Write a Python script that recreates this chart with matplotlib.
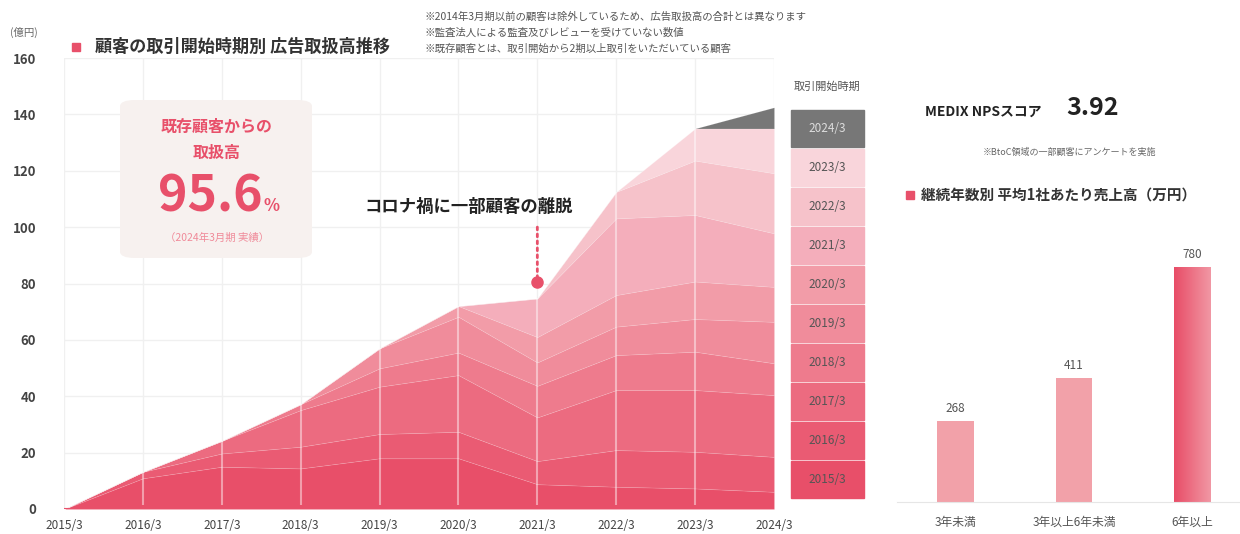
import matplotlib
matplotlib.use('Agg')
import matplotlib.pyplot as plt
import numpy as np
from matplotlib.patches import Rectangle, FancyBboxPatch
from matplotlib.colors import LinearSegmentedColormap

plt.rcParams['font.family'] = ['Noto Sans CJK JP', 'DejaVu Sans']

# 決算期
periods = ['2015/3', '2016/3', '2017/3', '2018/3', '2019/3',
           '2020/3', '2021/3', '2022/3', '2023/3', '2024/3']

# 取引開始時期別 広告取扱高（億円）
c2015 = [0, 10.9, 15.0, 14.4, 18.0, 18.0, 8.8, 7.9, 7.3, 6.1]
c2016 = [0, 2.3, 4.7, 7.7, 8.6, 9.4, 8.2, 13.0, 13.0, 12.4]
c2017 = [0, 0, 4.5, 13.0, 16.8, 20.1, 15.5, 21.3, 21.9, 21.9]
c2018 = [0, 0, 0, 2.1, 6.5, 8.0, 11.2, 12.4, 13.6, 11.3]
c2019 = [0, 0, 0, 0, 7.1, 12.7, 8.3, 10.1, 11.6, 14.7]
c2020 = [0, 0, 0, 0, 0, 3.8, 9.0, 11.2, 13.3, 12.4]
c2021 = [0, 0, 0, 0, 0, 0, 13.7, 27.2, 23.6, 19.0]
c2022 = [0, 0, 0, 0, 0, 0, 0, 9.4, 19.3, 21.3]
c2023 = [0, 0, 0, 0, 0, 0, 0, 0, 11.4, 15.9]
c2024 = [0, 0, 0, 0, 0, 0, 0, 0, 0, 7.5]
cohorts = [c2015, c2016, c2017, c2018, c2019, c2020, c2021, c2022, c2023, c2024]
cohort_labels = periods

colors = ['#e84f69', '#ea5b73', '#ec6b80', '#ee7b8d', '#f08c9b',
          '#f29ca8', '#f4aebb', '#f6c2ca', '#f9d5db', '#777777']

# 継続年数別 平均1社あたり売上高（万円）
tenure = ['3年未満', '3年以上6年未満', '6年以上']
sales = [268, 411, 780]

red = '#e8506a'
W, H = 1240, 534


def fx(x):
    return x / W


def fy(y):
    return 1 - y / H


fig = plt.figure(figsize=(12.4, 5.34), dpi=100)

# ---- 左: 積み上げ面グラフ
ax = fig.add_axes([fx(64), fy(509), fx(774) - fx(64), fy(58) - fy(509)])
x = np.arange(len(periods))
ax.stackplot(x, *cohorts, colors=colors, linewidth=0.5,
             edgecolor=(1, 1, 1, 0.15), zorder=2)
totals = np.sum(cohorts, axis=0)
ax.vlines(x[1:-1], 1.5, totals[1:-1], color='white', alpha=0.45, lw=1.5, zorder=3)
ax.plot([0, 9], [0, 0], color=red, lw=1.5, zorder=4)

ax.set_xlim(0, 9)
ax.set_ylim(0, 160)
ax.set_yticks(range(0, 161, 20))
ax.set_xticks(x)
ax.set_xticklabels(periods)
ax.grid(color='#f0f0f0', lw=1, zorder=0)
ax.set_axisbelow(True)
for s in ax.spines.values():
    s.set_visible(False)
ax.tick_params(length=0, colors='#444')
ax.tick_params(axis='y', pad=20, labelsize=9.5)
ax.tick_params(axis='x', pad=7, labelsize=8.5)
for t in ax.get_yticklabels():
    t.set_fontweight('bold')

fig.text(fx(10), fy(32), '(億円)', fontsize=7.5, color='#666', va='center')
fig.patches.append(Rectangle((fx(72), fy(51)), fx(8), fy(43) - fy(51),
                             transform=fig.transFigure, color=red))
fig.text(fx(95), fy(47), '顧客の取引開始時期別 広告取扱高推移', fontsize=12.3,
         fontweight='bold', color='#333', va='center')

notes = ['※2014年3月期以前の顧客は除外しているため、広告取扱高の合計とは異なります',
         '※監査法人による監査及びレビューを受けていない数値',
         '※既存顧客とは、取引開始から2期以上取引をいただいている顧客']
for i, n in enumerate(notes):
    fig.text(fx(425), fy(17 + 16 * i), n, fontsize=7.5, color='#555', va='center')

# 吹き出しボックス
box = FancyBboxPatch((fx(120), fy(258)), fx(192), fy(100) - fy(258),
                     boxstyle='round,pad=0,rounding_size=0.012',
                     transform=fig.transFigure, fc='#f7f1ef', ec='none')
fig.patches.append(box)
fig.text(fx(217), fy(127), '既存顧客からの', fontsize=11.5, fontweight='bold',
         color=red, ha='center', va='center')
fig.text(fx(217), fy(153), '取扱高', fontsize=11.5, fontweight='bold',
         color=red, ha='center', va='center')
fig.text(fx(263), fy(211), '95.6', fontsize=36, fontweight='bold',
         color=red, ha='right', va='baseline')
fig.text(fx(264), fy(211), '%', fontsize=12, fontweight='bold',
         color=red, ha='left', va='baseline')
fig.text(fx(217), fy(238), '（2024年3月期 実績）', fontsize=7.5,
         color='#f08a99', ha='center', va='center')

# コロナ注記
ax.annotate('', xy=(6, 81), xytext=(6, 101),
            arrowprops=dict(arrowstyle='-', color=red, ls=(0, (1, 1.5)), lw=2))
ax.plot(6, 80.5, 'o', color=red, ms=8, zorder=5)
fig.text(fx(469), fy(207), 'コロナ禍に一部顧客の離脱', fontsize=12.5,
         fontweight='bold', color='#222', ha='center', va='center')

# 凡例（取引開始時期）
fig.text(fx(827), fy(87), '取引開始時期', fontsize=8, color='#555',
         ha='center', va='center')
for i, (lab, c) in enumerate(zip(cohort_labels[::-1], colors[::-1])):
    top = 110 + 39 * i
    fig.patches.append(Rectangle((fx(791), fy(top + 37)), fx(73),
                                 fy(top) - fy(top + 37),
                                 transform=fig.transFigure, color=c))
    fig.text(fx(827), fy(top + 18.5), lab, fontsize=8.5,
             color='#ddd' if c == '#777777' else '#555',
             ha='center', va='center')

# ---- 右: NPS と 棒グラフ
fig.text(fx(925), fy(112), 'MEDIX NPSスコア', fontsize=10, fontweight='bold',
         color='#222', va='center')
fig.text(fx(1066), fy(108), '3.92', fontsize=18, fontweight='bold',
         color='#222', va='center')
fig.text(fx(1069), fy(152), '※BtoC領域の一部顧客にアンケートを実施', fontsize=6.5,
         color='#666', ha='center', va='center')
fig.patches.append(Rectangle((fx(906), fy(199)), fx(8), fy(191) - fy(199),
                             transform=fig.transFigure, color=red))
fig.text(fx(921), fy(195), '継続年数別 平均1社あたり売上高（万円）', fontsize=10.5,
         fontweight='bold', color='#333', va='center')

ax2 = fig.add_axes([fx(897), fy(501.7), fx(1240) - fx(897), fy(240) - fy(501.7)])
bx = np.arange(len(tenure))
bars = ax2.bar(bx, sales, width=0.31, color=['#f2a1a9', '#f2a1a9', 'none'], zorder=2)
grad = LinearSegmentedColormap.from_list('g', ['#e84d67', '#f197a4'])
im = ax2.imshow(np.linspace(0, 1, 100).reshape(1, -1), cmap=grad, aspect='auto',
                extent=[bx[2] - 0.155, bx[2] + 0.155, 0, sales[2]], zorder=2)
im.set_clip_path(bars[2])
for xi, v in zip(bx, sales):
    ax2.text(xi, v + 40, str(v), ha='center', va='center', fontsize=8.5, color='#555')
ax2.set_xlim(-0.494, 2.40)
ax2.set_ylim(0, 868)
ax2.set_xticks(bx)
ax2.set_xticklabels(tenure)
ax2.set_yticks([])
for s in ['top', 'right', 'left']:
    ax2.spines[s].set_visible(False)
ax2.spines['bottom'].set_color('#e6e6e6')
ax2.tick_params(length=0, colors='#555', labelsize=8.5, pad=10)

fig.savefig('out.png', dpi=100)
